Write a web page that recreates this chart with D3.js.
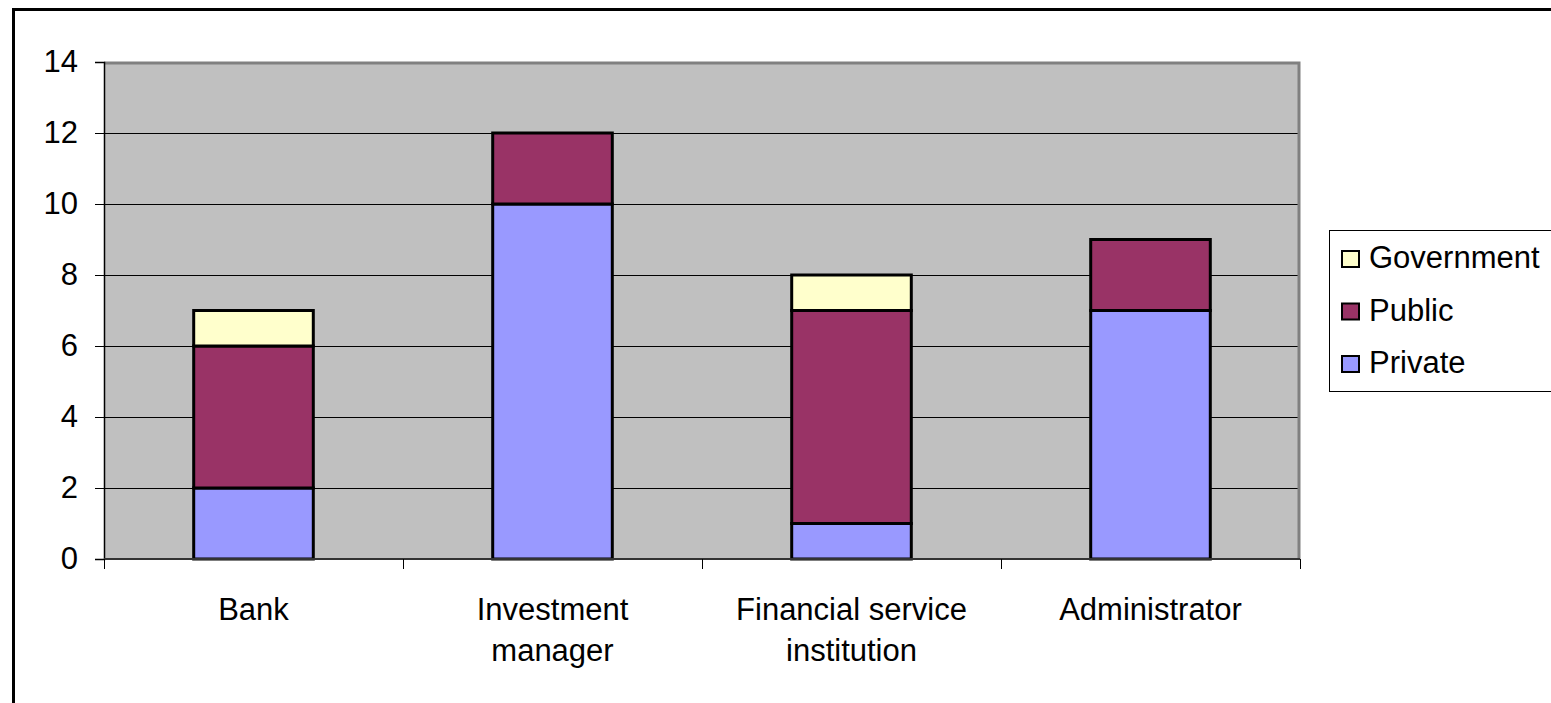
<!DOCTYPE html>
<html>
<head>
<meta charset="utf-8">
<script src="https://cdn.jsdelivr.net/npm/d3@7"></script>
<style>
  html, body { margin: 0; padding: 0; background: #fff; }
  svg { display: block; }
  text { font-family: "Liberation Sans", Arial, sans-serif; fill: #000; }
</style>
</head>
<body>
<svg id="chart" width="1551" height="703"></svg>
<script>
// Categories (each label may span two lines)
const categories = ["Bank", "Investment manager", "Financial service institution", "Administrator"];
const categoryLines = [["Bank"], ["Investment", "manager"], ["Financial service", "institution"], ["Administrator"]];

// Series, stacked from bottom to top
const seriesNames = ["Private", "Public", "Government"];
const privateValues = [2, 10, 1, 7];
const publicValues = [4, 2, 6, 2];
const governmentValues = [1, 0, 1, 0];
const seriesColors = ["#9999FF", "#993366", "#FFFFCC"];

const yTicks = [0, 2, 4, 6, 8, 10, 12, 14];

const rows = categories.map((c, i) => ({
  category: c,
  Private: privateValues[i],
  Public: publicValues[i],
  Government: governmentValues[i]
}));

const FONT = 31;
const svg = d3.select("#chart");

// Outer chart frame
svg.append("rect")
  .attr("x", 13.5).attr("y", 9.5)
  .attr("width", 1600).attr("height", 800)
  .attr("fill", "#fff").attr("stroke", "#000").attr("stroke-width", 3);

const plot = { left: 104, right: 1300, top: 62, bottom: 559 };

const x = d3.scaleBand()
  .domain(categories)
  .range([plot.left, plot.right])
  .paddingInner(0.6)
  .paddingOuter(0.3);

const y = d3.scaleLinear().domain([0, 14]).range([plot.bottom, plot.top]);

// Plot area background
svg.append("rect")
  .attr("x", plot.left).attr("y", plot.top)
  .attr("width", plot.right - plot.left).attr("height", plot.bottom - plot.top)
  .attr("fill", "#C0C0C0");

// Horizontal gridlines
svg.append("g").selectAll("line")
  .data(yTicks.filter(t => t > 0 && t < 14))
  .join("line")
  .attr("x1", plot.left).attr("x2", plot.right)
  .attr("y1", d => Math.round(y(d)) + 0.5).attr("y2", d => Math.round(y(d)) + 0.5)
  .attr("stroke", "#000").attr("stroke-width", 1);

// Plot area border (top and right)
svg.append("path")
  .attr("d", `M${plot.left},${plot.top + 1}H${plot.right - 1}V${plot.bottom}`)
  .attr("fill", "none").attr("stroke", "#808080").attr("stroke-width", 3);

// Stacked bars
const stack = d3.stack().keys(seriesNames);
const layers = stack(rows);

svg.append("g").selectAll("g")
  .data(layers)
  .join("g")
  .attr("fill", (d, i) => seriesColors[i])
  .selectAll("rect")
  .data(d => d.filter(s => s[1] - s[0] > 0))
  .join("rect")
  .attr("x", d => x(d.data.category))
  .attr("y", d => y(d[1]))
  .attr("width", x.bandwidth())
  .attr("height", d => y(d[0]) - y(d[1]))
  .attr("stroke", "#000")
  .attr("stroke-width", 3);

// Y axis
const yAxis = svg.append("g")
  .attr("transform", `translate(${plot.left},0)`)
  .call(d3.axisLeft(y).tickValues(yTicks).tickSize(9).tickPadding(17).tickFormat(d3.format("d")));
yAxis.select(".domain").attr("stroke", "#000").attr("stroke-width", 1.5);
yAxis.selectAll(".tick line").attr("stroke", "#000");
yAxis.selectAll("text")
  .attr("font-size", FONT)
  .attr("font-family", "'Liberation Sans', Arial, sans-serif")
  .attr("fill", "#000");

// X axis: ticks between categories
const step = x.step();
const boundaries = d3.range(categories.length + 1).map(i => plot.left + i * step);
svg.append("line")
  .attr("x1", plot.left).attr("x2", plot.right)
  .attr("y1", plot.bottom).attr("y2", plot.bottom)
  .attr("stroke", "#333").attr("stroke-width", 2);
svg.append("g").selectAll("line")
  .data(boundaries)
  .join("line")
  .attr("x1", d => Math.round(d) + 0.5).attr("x2", d => Math.round(d) + 0.5)
  .attr("y1", plot.bottom).attr("y2", plot.bottom + 10)
  .attr("stroke", "#000").attr("stroke-width", 1);

// Category labels
const labels = svg.append("g").selectAll("text")
  .data(categories)
  .join("text")
  .attr("x", d => x(d) + x.bandwidth() / 2)
  .attr("y", 620)
  .attr("text-anchor", "middle")
  .attr("font-size", FONT);
labels.selectAll("tspan")
  .data((d, i) => categoryLines[i])
  .join("tspan")
  .attr("x", function () { return this.parentNode.getAttribute("x"); })
  .attr("dy", (d, i) => i === 0 ? 0 : 41)
  .text(d => d);

// Legend
const legend = svg.append("g");
legend.append("rect")
  .attr("x", 1329.5).attr("y", 230.5)
  .attr("width", 260).attr("height", 161)
  .attr("fill", "#fff").attr("stroke", "#000").attr("stroke-width", 1);

const legendOrder = ["Government", "Public", "Private"];
const legendItems = legend.selectAll("g.item")
  .data(legendOrder)
  .join("g")
  .attr("class", "item")
  .attr("transform", (d, i) => `translate(0, ${i * 52.5})`);
legendItems.append("rect")
  .attr("x", 1342).attr("y", 251)
  .attr("width", 17).attr("height", 16)
  .attr("fill", d => seriesColors[seriesNames.indexOf(d)])
  .attr("stroke", "#000").attr("stroke-width", 2);
legendItems.append("text")
  .attr("x", 1369).attr("y", 268)
  .attr("font-size", FONT)
  .text(d => d);
</script>
</body>
</html>
